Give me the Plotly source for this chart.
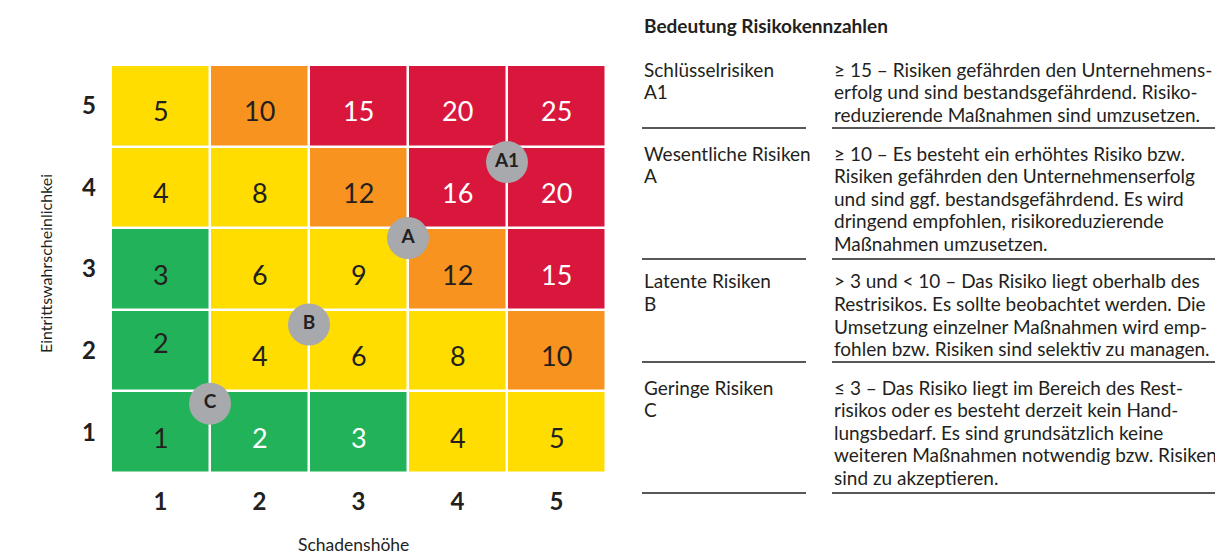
import plotly.graph_objects as go

# page draws the figure with the default 8px body margin
OFF = 8
W, H = 1223 - OFF, 556 - OFF

# ---------------- data ----------------
impact = [1, 2, 3, 4, 5]            # Schadenshöhe
likelihood = [1, 2, 3, 4, 5]        # Eintrittswahrscheinlichkeit
tick_labels = ["1", "2", "3", "4", "5"]

# risk score per cell (rows = likelihood 1..5, cols = impact 1..5)
scores = [
    [1, 2, 3, 4, 5],
    [2, 4, 6, 8, 10],
    [3, 6, 9, 12, 15],
    [4, 8, 12, 16, 20],
    [5, 10, 15, 20, 25],
]
# colour class per cell: 0 green, 1 yellow, 2 orange, 3 red
classes = [
    [0, 0, 0, 1, 1],
    [0, 1, 1, 1, 2],
    [0, 1, 1, 2, 3],
    [1, 1, 2, 3, 3],
    [1, 2, 3, 3, 3],
]
# label colour per cell: 0 dark, 1 white
label_white = [
    [0, 1, 1, 0, 0],
    [0, 0, 0, 0, 0],
    [0, 0, 0, 0, 1],
    [0, 0, 0, 1, 1],
    [0, 0, 1, 1, 1],
]

marker_names = ["A1", "A", "B", "C"]
marker_x = [4.5, 3.5, 2.5, 1.5]
marker_y = [4.31, 3.38, 2.32, 1.35]

x_title = "Schadenshöhe"
y_title = "Eintrittswahrscheinlichkei"

table_title = "Bedeutung Risikokennzahlen"
table_left = [
    ["Schlüsselrisiken", "A1"],
    ["Wesentliche Risiken", "A"],
    ["Latente Risiken", "B"],
    ["Geringe Risiken", "C"],
]
table_right = [
    ["≥ 15 – Risiken gefährden den Unternehmens-",
     "erfolg und sind bestandsgefährdend. Risiko-",
     "reduzierende Maßnahmen sind umzusetzen."],
    ["≥ 10 – Es besteht ein erhöhtes Risiko bzw.",
     "Risiken gefährden den Unternehmenserfolg",
     "und sind ggf. bestandsgefährdend. Es wird",
     "dringend empfohlen, risikoreduzierende",
     "Maßnahmen umzusetzen."],
    ["> 3 und < 10 – Das Risiko liegt oberhalb des",
     "Restrisikos. Es sollte beobachtet werden. Die",
     "Umsetzung einzelner Maßnahmen wird emp-",
     "fohlen bzw. Risiken sind selektiv zu managen."],
    ["≤ 3 – Das Risiko liegt im Bereich des Rest-",
     "risikos oder es besteht derzeit kein Hand-",
     "lungsbedarf. Es sind grundsätzlich keine",
     "weiteren Maßnahmen notwendig bzw. Risiken",
     "sind zu akzeptieren."],
]

# ---------------- style ----------------
GREEN, YELLOW, ORANGE, RED = "#22B25A", "#FFDD00", "#F7931E", "#D9163C"
GREY = "#A7A9AC"
DARK = "#231F20"
FONT = "Lato"

grid_l, grid_r, grid_t, grid_b = 111, 606, 65, 473
# per-cell vertical nudge of the score label (pixels, up positive)
label_nudge = {(1, 0): 13}


def px(x):
    return (x - OFF) / W


def py(y):
    return 1 - (y - OFF) / H


fig = go.Figure()

fig.add_trace(go.Heatmap(
    x=impact, y=likelihood, z=classes,
    zmin=-0.5, zmax=3.5,
    colorscale=[[0, GREEN], [0.25, GREEN], [0.25, YELLOW], [0.5, YELLOW],
                [0.5, ORANGE], [0.75, ORANGE], [0.75, RED], [1, RED]],
    showscale=False, xgap=2.5, ygap=2.5, hoverinfo="skip",
))

# risk markers
fig.add_trace(go.Scatter(
    x=marker_x, y=marker_y, mode="markers+text", text=marker_names,
    marker=dict(size=42, color=GREY, line=dict(width=0)),
    textfont=dict(family=FONT, size=19, color=DARK, weight="bold"),
    textposition="middle center",
    hoverinfo="skip", showlegend=False,
))

fig.update_xaxes(
    range=[0.5, 5.5], domain=[px(grid_l), px(grid_r)],
    tickvals=impact, ticktext=tick_labels,
    tickfont=dict(family=FONT, size=24, color=DARK, weight="bold"),
    showgrid=False, zeroline=False, showline=False, ticks="",
    ticklabelstandoff=12, fixedrange=True,
)
fig.update_yaxes(
    range=[0.5, 5.5], domain=[py(grid_b), py(grid_t)],
    tickvals=likelihood, ticktext=tick_labels,
    tickfont=dict(family=FONT, size=24, color=DARK, weight="bold"),
    showgrid=False, zeroline=False, showline=False, ticks="",
    ticklabelstandoff=14, fixedrange=True,
)

ann = []
# cell score labels
for i, yv in enumerate(likelihood):
    for j, xv in enumerate(impact):
        ann.append(dict(
            text=str(scores[i][j]), x=xv, y=yv, xref="x", yref="y",
            showarrow=False, xanchor="center", yanchor="middle",
            yshift=-5 + label_nudge.get((i, j), 0),
            font=dict(family=FONT, size=27,
                      color="white" if label_white[i][j] else DARK),
        ))

ann.append(dict(text=x_title, x=px(353), y=py(544), xref="paper", yref="paper",
                showarrow=False, font=dict(family=FONT, size=17.5, color=DARK),
                xanchor="center", yanchor="middle"))
ann.append(dict(text=y_title, x=px(45), y=py(264), xref="paper", yref="paper",
                showarrow=False, textangle=-90,
                font=dict(family=FONT, size=16, color=DARK),
                xanchor="center", yanchor="middle"))
ann.append(dict(text="<b>" + table_title + "</b>", x=px(642), y=py(25),
                xref="paper", yref="paper", showarrow=False,
                font=dict(family=FONT, size=19, color=DARK),
                xanchor="left", yanchor="middle"))

row_tops = [69, 153, 281, 387]
line_ys = [128, 259, 362, 493]
LH = 22.6
for r in range(4):
    for k, t in enumerate(table_left[r]):
        ann.append(dict(text=t, x=px(642), y=py(row_tops[r] + k * LH),
                        xref="paper", yref="paper", showarrow=False,
                        font=dict(family=FONT, size=19, color=DARK),
                        xanchor="left", yanchor="middle"))
    for k, t in enumerate(table_right[r]):
        ann.append(dict(text=t, x=px(832), y=py(row_tops[r] + k * LH),
                        xref="paper", yref="paper", showarrow=False,
                        font=dict(family=FONT, size=19, color=DARK),
                        xanchor="left", yanchor="middle"))

shapes = []
for ly in line_ys:
    shapes.append(dict(type="line", xref="paper", yref="paper",
                       x0=px(642), x1=px(806), y0=py(ly), y1=py(ly),
                       line=dict(color=DARK, width=1.3)))
    shapes.append(dict(type="line", xref="paper", yref="paper",
                       x0=px(832), x1=px(1221), y0=py(ly), y1=py(ly),
                       line=dict(color=DARK, width=1.3)))

fig.update_layout(
    width=W, height=H, margin=dict(l=0, r=0, t=0, b=0),
    paper_bgcolor="white", plot_bgcolor="white",
    showlegend=False, annotations=ann, shapes=shapes,
    font=dict(family=FONT, color=DARK),
)

fig.write_html("out.html")
